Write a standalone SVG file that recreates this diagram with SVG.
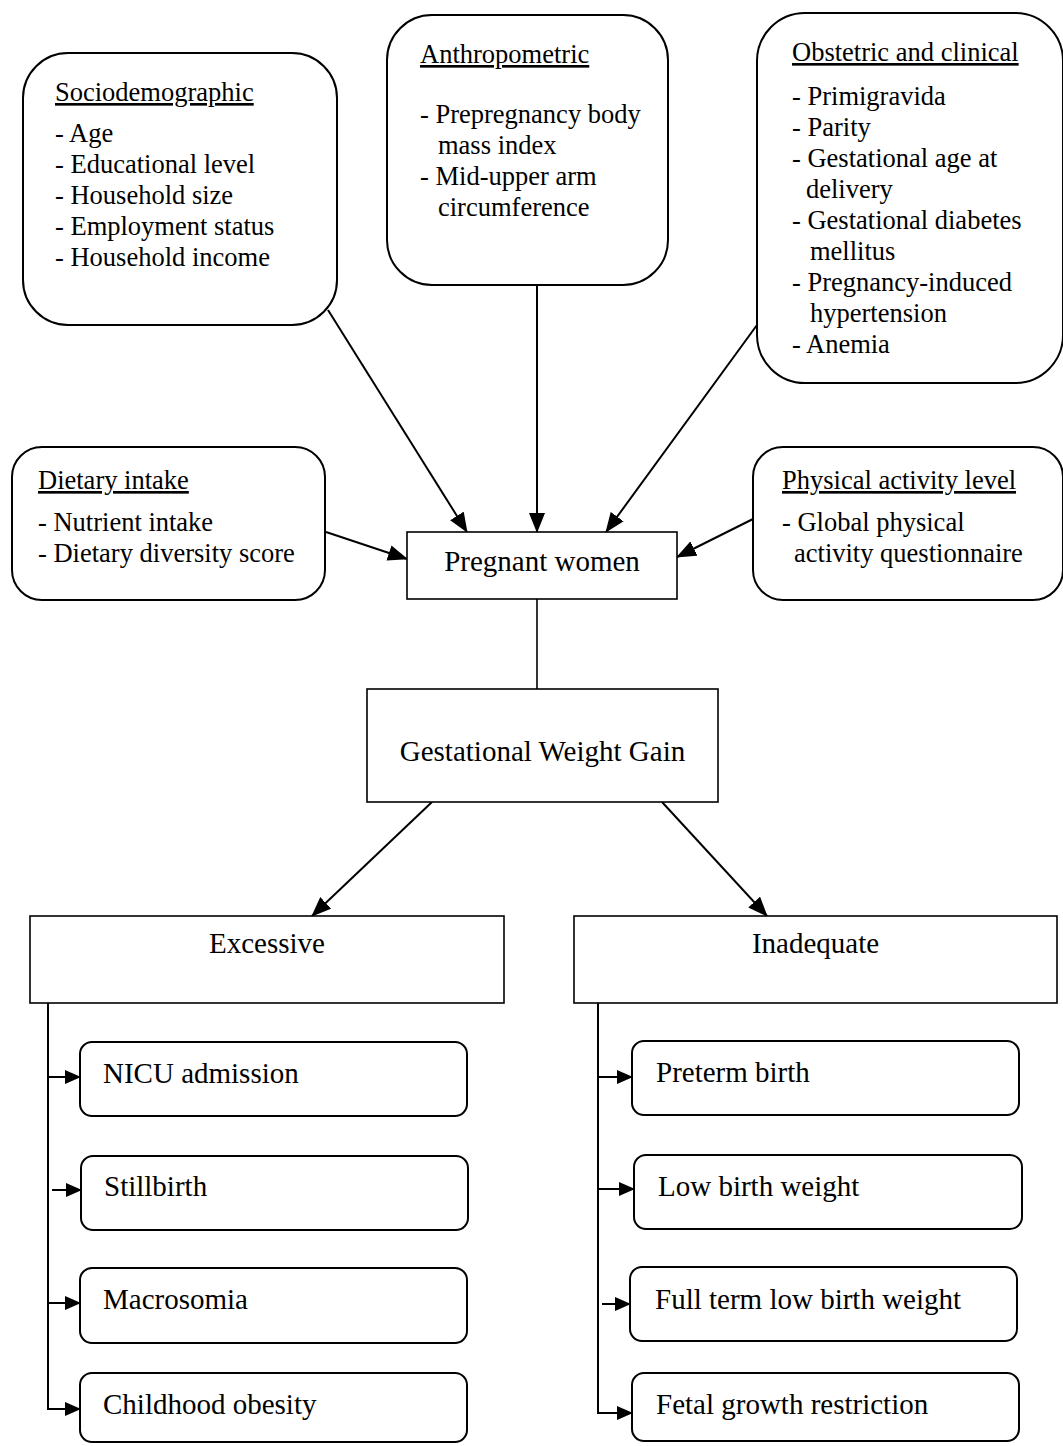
<svg xmlns="http://www.w3.org/2000/svg" width="1063" height="1446" viewBox="0 0 1063 1446">
<style>
  .rb { fill: #fff; stroke: #000; stroke-width: 2; }
  .bx { fill: #fff; stroke: #000; stroke-width: 1.6; }
  .t { font-family: "Liberation Serif", "Times New Roman", serif; font-size: 26.5px; fill: #000; }
  .h { text-decoration: underline; }
  .m { font-family: "Liberation Serif", "Times New Roman", serif; font-size: 29px; fill: #000; }
  .c { text-anchor: middle; }
  .ln { fill: none; stroke: #000; stroke-width: 2; }
  .ln2 { fill: none; stroke: #000; stroke-width: 1.6; }
</style>
<defs>
  <marker id="ah" markerUnits="userSpaceOnUse" markerWidth="20" markerHeight="16" viewBox="0 0 20 16" refX="19" refY="8" orient="auto">
    <path d="M0,0 L20,8 L0,16 Z" fill="#000"/>
  </marker>
  <marker id="as" markerUnits="userSpaceOnUse" markerWidth="16" markerHeight="14" viewBox="0 0 16 14" refX="15" refY="7" orient="auto">
    <path d="M0,0 L16,7 L0,14 Z" fill="#000"/>
  </marker>
</defs>
<rect width="1063" height="1446" fill="#fff"/>

<g id="connectors">
  <path class="ln" d="M328,310 L467,532" marker-end="url(#ah)"/>
  <path class="ln" d="M537,285 L537,532" marker-end="url(#ah)"/>
  <path class="ln" d="M757,325 L606,532" marker-end="url(#ah)"/>
  <path class="ln" d="M326,532 L407,559" marker-end="url(#ah)"/>
  <path class="ln" d="M753,519 L677,557" marker-end="url(#ah)"/>
  <path class="ln2" d="M537,599 L537,689"/>
  <path class="ln" d="M432,802 L312,916" marker-end="url(#ah)"/>
  <path class="ln" d="M662,802 L767,916" marker-end="url(#ah)"/>
  <path class="ln" d="M48,1003 L48,1409 L80,1409" marker-end="url(#as)"/>
  <path class="ln" d="M48,1077 L80,1077" marker-end="url(#as)"/>
  <path class="ln" d="M52,1190 L81,1190" marker-end="url(#as)"/>
  <path class="ln" d="M48,1303 L80,1303" marker-end="url(#as)"/>
  <path class="ln" d="M598,1003 L598,1413 L632,1413" marker-end="url(#as)"/>
  <path class="ln" d="M598,1077 L632,1077" marker-end="url(#as)"/>
  <path class="ln" d="M598,1189 L634,1189" marker-end="url(#as)"/>
  <path class="ln" d="M602,1304 L630,1304" marker-end="url(#as)"/>
</g>

<g id="sociodemographic">
  <rect class="rb" x="23" y="53" width="314" height="272" rx="45" ry="45"/>
  <text class="t h" x="55" y="101">Sociodemographic</text>
  <text class="t" x="55" y="142">- Age</text>
  <text class="t" x="55" y="173">- Educational level</text>
  <text class="t" x="55" y="204">- Household size</text>
  <text class="t" x="55" y="235">- Employment status</text>
  <text class="t" x="55" y="266">- Household income</text>
</g>

<g id="anthropometric">
  <rect class="rb" x="387" y="15" width="281" height="270" rx="45" ry="45"/>
  <text class="t h" x="420" y="63">Anthropometric</text>
  <text class="t" x="420" y="123">- Prepregnancy body</text>
  <text class="t" x="438" y="154">mass index</text>
  <text class="t" x="420" y="185">- Mid-upper arm</text>
  <text class="t" x="438" y="216">circumference</text>
</g>

<g id="obstetric">
  <rect class="rb" x="757" y="13" width="306" height="370" rx="48" ry="48"/>
  <text class="t h" x="792" y="61">Obstetric and clinical</text>
  <text class="t" x="792" y="105">- Primigravida</text>
  <text class="t" x="792" y="136">- Parity</text>
  <text class="t" x="792" y="167">- Gestational age at</text>
  <text class="t" x="806" y="198">delivery</text>
  <text class="t" x="792" y="229">- Gestational diabetes</text>
  <text class="t" x="810" y="260">mellitus</text>
  <text class="t" x="792" y="291">- Pregnancy-induced</text>
  <text class="t" x="810" y="322">hypertension</text>
  <text class="t" x="792" y="353">- Anemia</text>
</g>

<g id="dietary">
  <rect class="rb" x="12" y="447" width="313" height="153" rx="30" ry="30"/>
  <text class="t h" x="38" y="489">Dietary intake</text>
  <text class="t" x="38" y="531">- Nutrient intake</text>
  <text class="t" x="38" y="562">- Dietary diversity score</text>
</g>

<g id="physical">
  <rect class="rb" x="753" y="447" width="310" height="153" rx="30" ry="30"/>
  <text class="t h" x="782" y="489">Physical activity level</text>
  <text class="t" x="782" y="531">- Global physical</text>
  <text class="t" x="794" y="562">activity questionnaire</text>
</g>

<g id="pregnant">
  <rect class="bx" x="407" y="532" width="270" height="67"/>
  <text class="m c" x="542" y="571">Pregnant women</text>
</g>

<g id="gwg">
  <rect class="bx" x="367" y="689" width="351" height="113"/>
  <text class="m c" x="542.5" y="761">Gestational Weight Gain</text>
</g>

<g id="excessive">
  <rect class="bx" x="30" y="916" width="474" height="87"/>
  <text class="m c" x="267" y="953">Excessive</text>
</g>

<g id="inadequate">
  <rect class="bx" x="574" y="916" width="483" height="87"/>
  <text class="m c" x="815.5" y="953">Inadequate</text>
</g>

<g id="nicu">
  <rect class="rb" x="80" y="1042" width="387" height="74" rx="12" ry="12"/>
  <text class="m" x="103" y="1083">NICU admission</text>
</g>
<g id="stillbirth">
  <rect class="rb" x="81" y="1156" width="387" height="74" rx="12" ry="12"/>
  <text class="m" x="104" y="1196">Stillbirth</text>
</g>
<g id="macrosomia">
  <rect class="rb" x="80" y="1268" width="387" height="75" rx="12" ry="12"/>
  <text class="m" x="103" y="1309">Macrosomia</text>
</g>
<g id="childhood">
  <rect class="rb" x="80" y="1373" width="387" height="69" rx="12" ry="12"/>
  <text class="m" x="103" y="1414">Childhood obesity</text>
</g>

<g id="preterm">
  <rect class="rb" x="632" y="1041" width="387" height="74" rx="12" ry="12"/>
  <text class="m" x="656" y="1082">Preterm birth</text>
</g>
<g id="lbw">
  <rect class="rb" x="634" y="1155" width="388" height="74" rx="12" ry="12"/>
  <text class="m" x="658" y="1196">Low birth weight</text>
</g>
<g id="fullterm">
  <rect class="rb" x="630" y="1267" width="387" height="74" rx="12" ry="12"/>
  <text class="m" x="655" y="1309">Full term low birth weight</text>
</g>
<g id="fetal">
  <rect class="rb" x="632" y="1373" width="387" height="68" rx="12" ry="12"/>
  <text class="m" x="656" y="1414">Fetal growth restriction</text>
</g>
</svg>
